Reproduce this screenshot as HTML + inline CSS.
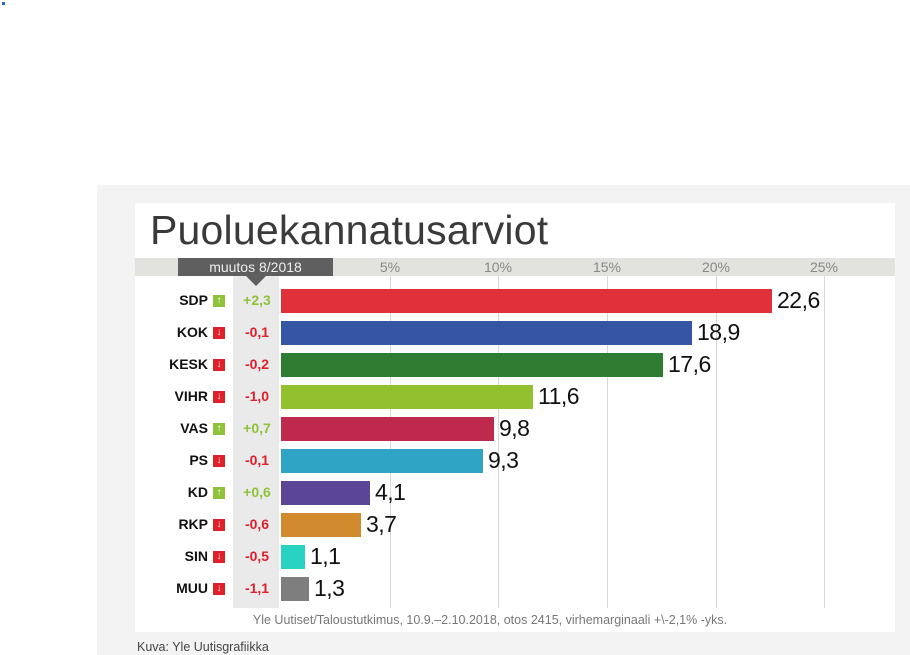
<!DOCTYPE html>
<html><head><meta charset="utf-8"><style>
body{margin:0;width:910px;height:655px;background:#fff;position:relative;overflow:hidden;font-family:"Liberation Sans",sans-serif}
.a{position:absolute}
.lbl{position:absolute;width:80px;left:128px;text-align:right;font-weight:bold;font-size:14px;color:#111}
.ic{position:absolute;left:213px;width:12px;height:12px;color:#fff;font-size:10px;line-height:12px;text-align:center;font-weight:bold}
.ch{position:absolute;left:234px;width:46px;text-align:center;font-weight:bold;font-size:14px}
.bar{position:absolute;left:281px;height:24px}
.val{position:absolute;font-size:23px;color:#111;letter-spacing:-0.5px}
.g{position:absolute;top:276px;height:332px;width:1px;background:#d8d8d8}
.t{position:absolute;top:259px;font-size:14px;color:#888;width:40px;text-align:center}
</style></head><body>
<div class="a" style="left:2px;top:2px;width:3px;height:3px;background:#2a6ad8"></div>
<div class="a" style="left:97px;top:185px;width:813px;height:470px;background:#f3f3f3"></div>
<div class="a" style="left:135px;top:203px;width:760px;height:429px;background:#fff"></div>
<div class="a" style="left:150px;top:207px;font-size:41px;font-weight:300;color:#3a3a3a;letter-spacing:0.2px">Puoluekannatusarviot</div>
<div class="a" style="left:135px;top:258px;width:760px;height:18px;background:#e2e2de"></div>
<div class="a" style="left:233px;top:276px;width:46px;height:332px;background:#eaeaea"></div>
<div class="a" style="left:178px;top:258px;width:155px;height:18px;background:#5f5f5f;color:#eee;font-size:14px;text-align:center;line-height:18px">muutos 8/2018</div>
<div class="a" style="left:246px;top:276px;width:0;height:0;border-left:10px solid transparent;border-right:10px solid transparent;border-top:10px solid #5f5f5f"></div>
<div class="g" style="left:390px"></div><div class="g" style="left:498px"></div><div class="g" style="left:607px"></div><div class="g" style="left:716px"></div><div class="g" style="left:824px"></div>
<div class="t" style="left:370px">5%</div><div class="t" style="left:478px">10%</div><div class="t" style="left:587px">15%</div><div class="t" style="left:696px">20%</div><div class="t" style="left:804px">25%</div>
<div id="rows"></div>
<script>
var d=[["SDP","+2,3",22.6,"#e0313a"],["KOK","-0,1",18.9,"#3556a4"],["KESK","-0,2",17.6,"#2f7d32"],["VIHR","-1,0",11.6,"#92c02f"],["VAS","+0,7",9.8,"#bf2a4c"],["PS","-0,1",9.3,"#2fa4c4"],["KD","+0,6",4.1,"#5a4596"],["RKP","-0,6",3.7,"#d28a2e"],["SIN","-0,5",1.1,"#28d3c4"],["MUU","-1,1",1.3,"#7e7e7e"]];
var h="";d.forEach(function(r,i){var c=301+32*i,up=r[1][0]=="+",col=up?"#8fc23a":"#e0202a",w=Math.round(r[2]*21.72);
h+='<div class="lbl" style="top:'+(c-9)+'px">'+r[0]+'</div><div class="ic" style="top:'+(c-6)+'px;background:'+col+'">'+(up?'↑':'↓')+'</div><div class="ch" style="top:'+(c-9)+'px;color:'+col+'">'+r[1]+'</div><div class="bar" style="top:'+(c-12)+'px;width:'+w+'px;background:'+r[3]+'"></div><div class="val" style="top:'+(c-14)+'px;left:'+(281+w+5)+'px">'+r[2].toFixed(1).replace('.',',')+'</div>';});
document.getElementById('rows').innerHTML=h;
</script>
<div class="a" style="left:135px;width:710px;top:613px;text-align:center;font-size:12.5px;color:#777">Yle Uutiset/Taloustutkimus, 10.9.–2.10.2018, otos 2415, virhemarginaali +\-2,1% -yks.</div>
<div class="a" style="left:137px;top:640px;font-size:12.5px;color:#444">Kuva: Yle Uutisgrafiikka</div>
</body></html>
